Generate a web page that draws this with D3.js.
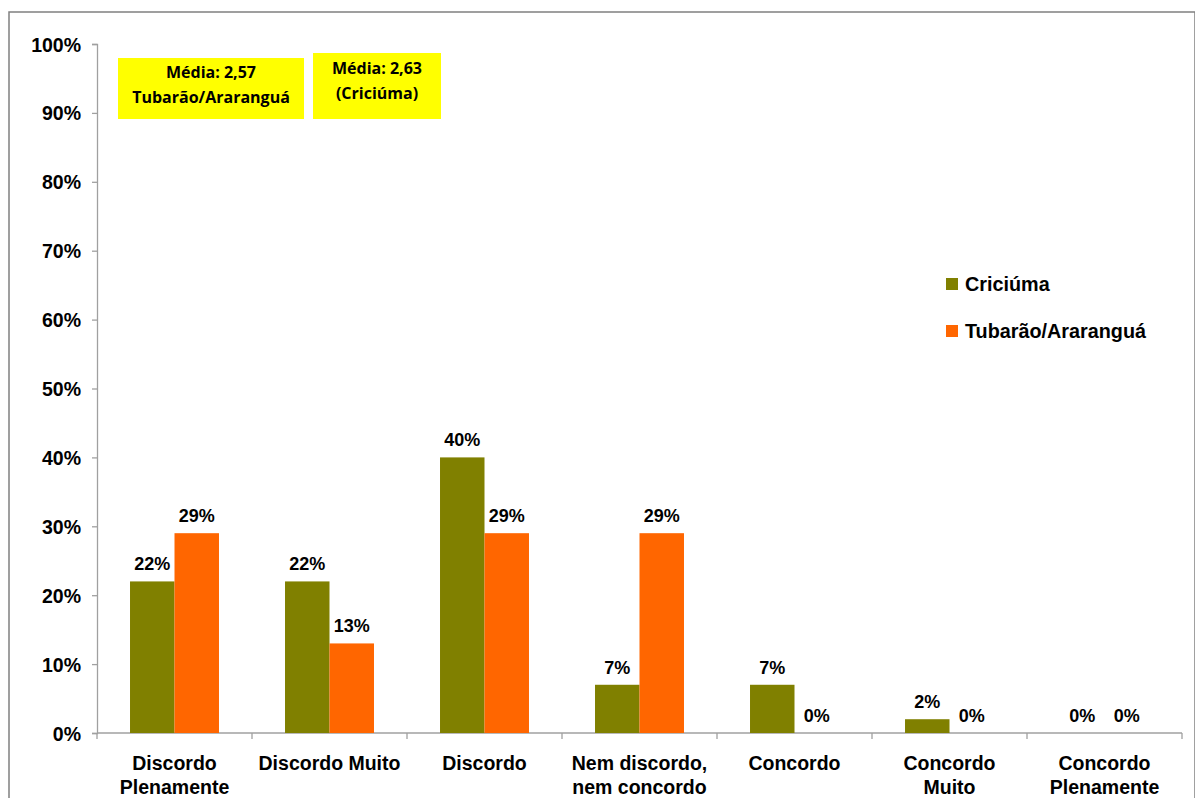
<!DOCTYPE html>
<html>
<head>
<meta charset="utf-8">
<script src="https://cdn.jsdelivr.net/npm/d3@7/dist/d3.min.js"></script>
<style>
  html, body { margin: 0; padding: 0; background: #fff; }
  svg { display: block; }
  text { font-family: "Liberation Sans", Arial, sans-serif; font-weight: bold; fill: #000; }
  .note text { font-family: "Open Sans", "Noto Sans", sans-serif; }
</style>
</head>
<body>
<svg id="chart" width="1195" height="798"></svg>
<script>
// Answer categories (second line of each label after "|")
const categories = [
  "Discordo|Plenamente", "Discordo Muito", "Discordo", "Nem discordo,|nem concordo",
  "Concordo", "Concordo|Muito", "Concordo|Plenamente"
];
const seriesNames = ["Criciúma", "Tubarão/Araranguá"];
const criciuma = [22, 22, 40, 7, 7, 2, 0];
const tubarao = [29, 13, 29, 29, 0, 0, 0];
const colors = ["#808000", "#FF6600"];
const yTicks = [0, 10, 20, 30, 40, 50, 60, 70, 80, 90, 100];
const notes = [
  ["Média: 2,57", "Tubarão/Araranguá"],
  ["Média: 2,63", "(Criciúma)"]
];

const svg = d3.select("#chart");
const margin = { left: 97, right: 1182, top: 44, bottom: 733 };

// Outer frame of the chart area
svg.append("rect")
  .attr("x", 9).attr("y", 12).attr("width", 1186).attr("height", 800)
  .attr("fill", "none").attr("stroke", "#808080").attr("stroke-width", 1.5);

const x0 = d3.scaleBand().domain(d3.range(categories.length))
  .range([margin.left, margin.right]).paddingInner(0.426).paddingOuter(0.213);
const x1 = d3.scaleBand().domain([0, 1]).range([0, x0.bandwidth()]);
const y = d3.scaleLinear().domain([0, 100]).range([margin.bottom, margin.top]);

// Y axis
const yAxis = svg.append("g").attr("transform", `translate(${margin.left},0)`)
  .call(d3.axisLeft(y).tickValues(yTicks).tickSize(5).tickPadding(11).tickFormat(d => d + "%"));
yAxis.select(".domain").attr("stroke", "#a0a0a0").attr("stroke-width", 1.3);
yAxis.selectAll(".tick line").attr("stroke", "#a0a0a0").attr("stroke-width", 1.3);
yAxis.selectAll(".tick text").style("font-size", "19.5px").attr("dy", "0.36em");

// X axis baseline and category separators
const step = x0.step();
const bounds = d3.range(categories.length + 1).map(i => margin.left + i * step);
svg.append("line")
  .attr("x1", margin.left).attr("x2", margin.right)
  .attr("y1", y(0)).attr("y2", y(0))
  .attr("stroke", "#a0a0a0").attr("stroke-width", 1.3);
svg.selectAll(".xtick").data(bounds).join("line")
  .attr("x1", d => d).attr("x2", d => d)
  .attr("y1", y(0)).attr("y2", y(0) + 6)
  .attr("stroke", "#a0a0a0").attr("stroke-width", 1.3);

// Category labels
const catG = svg.append("g");
categories.forEach((c, i) => {
  const cx = margin.left + (i + 0.5) * step;
  const t = catG.append("text").attr("text-anchor", "middle").style("font-size", "19.5px");
  c.split("|").forEach((line, j) => {
    t.append("tspan").attr("x", cx).attr("y", 770 + j * 24).text(line);
  });
});

// Bars and value labels
const series = [criciuma, tubarao];
series.forEach((vals, s) => {
  const g = svg.append("g");
  g.selectAll("rect").data(vals).join("rect")
    .attr("x", (d, i) => x0(i) + x1(s))
    .attr("width", x1.bandwidth())
    .attr("y", d => y(d))
    .attr("height", d => y(0) - y(d))
    .attr("fill", colors[s]);
  g.selectAll("text").data(vals).join("text")
    .attr("x", (d, i) => x0(i) + x1(s) + x1.bandwidth() / 2)
    .attr("y", d => y(d) - 11)
    .attr("text-anchor", "middle")
    .style("font-size", "18px")
    .text(d => d + "%");
});

// Legend
const legend = svg.append("g");
seriesNames.forEach((name, i) => {
  const ly = 278 + i * 47;
  legend.append("rect").attr("x", 946).attr("y", ly).attr("width", 12).attr("height", 12).attr("fill", colors[i]);
  legend.append("text").attr("x", 965).attr("y", ly + 13).style("font-size", "19.8px").text(name);
});

// Average notes in yellow boxes
const noteBoxes = [
  { x: 118, y: 58, w: 186, h: 61, base: 78 },
  { x: 313, y: 53, w: 128, h: 66, base: 74 }
];
const noteG = svg.append("g").attr("class", "note");
notes.forEach((lines, i) => {
  const b = noteBoxes[i];
  noteG.append("rect").attr("x", b.x).attr("y", b.y).attr("width", b.w).attr("height", b.h).attr("fill", "#FFFF00");
  lines.forEach((line, j) => {
    noteG.append("text").attr("x", b.x + b.w / 2).attr("y", b.base + j * 25)
      .attr("text-anchor", "middle").style("font-size", "16px").text(line);
  });
});
</script>
</body>
</html>
